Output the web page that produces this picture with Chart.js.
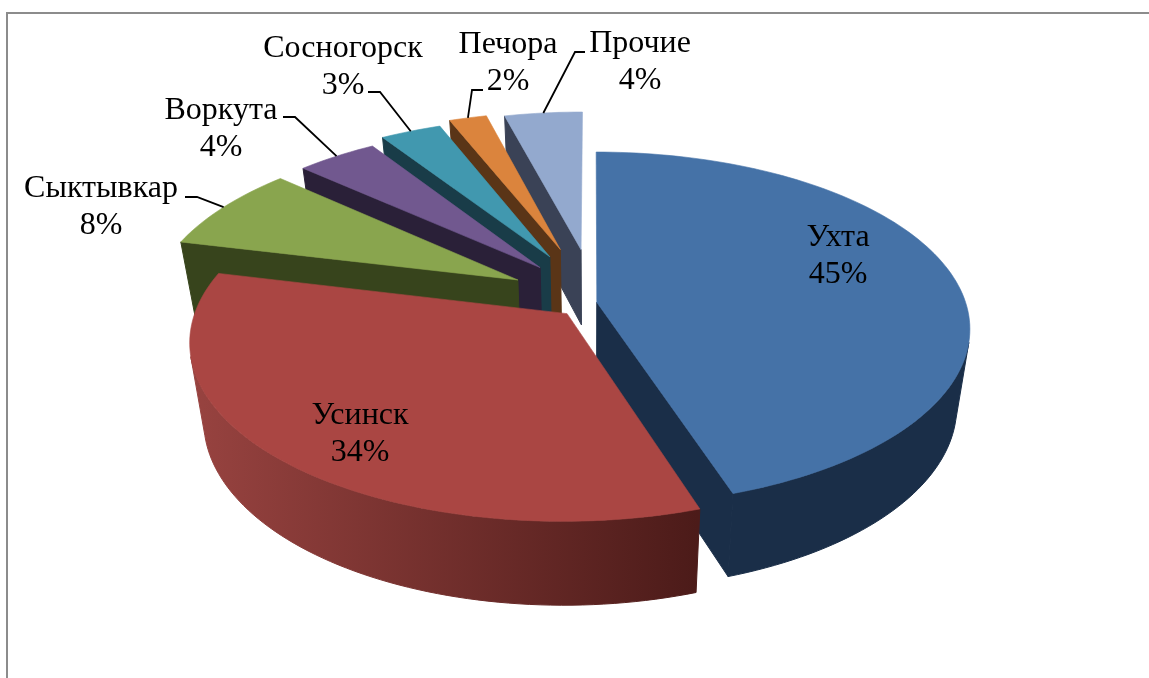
<!DOCTYPE html>
<html>
<head>
<meta charset="utf-8">
<style>
  html, body { margin: 0; padding: 0; background: #fff; overflow: hidden; }
  canvas { display: block; }
</style>
<script src="https://cdn.jsdelivr.net/npm/chart.js@4"></script>
</head>
<body>
<canvas id="pie3d" width="1149" height="678"></canvas>
<script>
const cities = ['Ухта', 'Усинск', 'Сыктывкар', 'Воркута', 'Сосногорск', 'Печора', 'Прочие'];
const shares = [44.9, 33.9, 7.9, 4.15, 3.15, 1.95, 4.05];

const topColors = ['#4572a7', '#aa4643', '#89a54e', '#71588f', '#4198af', '#db843d', '#93a9ce'];
const sideColors = ['#1a2e48', '#4c1b19', '#37441c', '#2a2038', '#193c48', '#5a3517', '#3a4256'];

// how far each slice is pulled out, in radii (across, towards viewer)
const pullU = [0.013, -0.067, -0.205, -0.145, -0.119, -0.09, -0.031];
const pullV = [-0.004, 0.061, -0.136, -0.211, -0.278, -0.324, -0.323];

// fake camera for the tilted pie
const view = { cx: 592, cy: 303, rx: 369, ry: 173, persp: 0.15, depth: 77, shrink: 0.035 };

function project(u, v, h) {
  const s = 1 / (1 - view.persp * v);
  const q = 1 - h * view.shrink;
  return {
    x: view.cx + view.rx * u * s * q,
    y: view.cy + view.ry * v * s * q + h * view.depth * s
  };
}

function fillPoly(ctx, pts, color, edge) {
  ctx.beginPath();
  pts.forEach((p, i) => (i ? ctx.lineTo(p.x, p.y) : ctx.moveTo(p.x, p.y)));
  ctx.closePath();
  ctx.fillStyle = color;
  ctx.strokeStyle = color;
  ctx.lineWidth = edge;
  ctx.fill();
  ctx.stroke();
}

function drawSlice(ctx, arc, i) {
  const steps = Math.max(6, Math.round((arc.endAngle - arc.startAngle) * 40));
  const ring = [[pullU[i], pullV[i]]];
  for (let n = 0; n <= steps; n++) {
    const a = arc.startAngle + (arc.endAngle - arc.startAngle) * n / steps;
    ring.push([pullU[i] + Math.cos(a), pullV[i] + Math.sin(a)]);
  }
  const topFace = ring.map(p => project(p[0], p[1], 0));
  const botFace = ring.map(p => project(p[0], p[1], 1));

  // rounded wall in one piece, only the part looking at the viewer
  const upper = [], lower = [];
  for (let n = 1; n < ring.length - 1; n++) {
    const a = topFace[n], b = topFace[n + 1], c = botFace[n + 1];
    const area = (b.x - a.x) * (c.y - a.y) - (b.y - a.y) * (c.x - a.x);
    if (area > 0) continue;
    if (!upper.length) { upper.push(a); lower.push(botFace[n]); }
    upper.push(b);
    lower.push(c);
  }
  if (upper.length) {
    let paint = sideColors[i];
    if (i === 1) {
      // red one fades along the front
      paint = ctx.createLinearGradient(190, 0, 697, 0);
      paint.addColorStop(0, '#984340');
      paint.addColorStop(1, '#4c1b19');
    }
    fillPoly(ctx, [...upper, ...lower.reverse()], paint, 1);
  }

  // straight walls on top of it, edge-on ones are skipped
  [0, ring.length - 1].forEach(n => {
    const m = (n + 1) % ring.length;
    const a = topFace[n], b = topFace[m], c = botFace[m], d = botFace[n];
    const area = (b.x - a.x) * (c.y - a.y) - (b.y - a.y) * (c.x - a.x);
    if (area < -200) fillPoly(ctx, [a, b, c, d], sideColors[i], 1);
  });

  fillPoly(ctx, topFace, topColors[i], 0.6);
}

const labelSpots = [
  { x: 838, y: 238 }, { x: 360, y: 416 },
  { x: 101, y: 189, leader: [[185, 197], [197, 197]] },
  { x: 221, y: 111, leader: [[283, 117], [295, 117]] },
  { x: 343, y: 49, leader: [[368, 92], [380, 92]] },
  { x: 508, y: 45, leader: [[483, 90], [472, 90]] },
  { x: 640, y: 44, leader: [[585, 52], [575, 52]] }
];

const pie3dPlugin = {
  id: 'pie3d',
  beforeDatasetsDraw(chart) {
    const ctx = chart.ctx;
    const arcs = chart.getDatasetMeta(0).data;

    // frame
    ctx.save();
    ctx.fillStyle = '#8c8c8c';
    ctx.fillRect(6, 12, 1143, 2);
    ctx.fillRect(6, 12, 2, 666);

    // back slices first, red and blue last
    [6, 5, 4, 3, 2, 0, 1].forEach(i => drawSlice(ctx, arcs[i], i));

    // leader lines end on the rim of their slice
    ctx.strokeStyle = '#000';
    ctx.lineWidth = 1.8;
    labelSpots.forEach((spot, i) => {
      if (!spot.leader) return;
      const mid = (arcs[i].startAngle + arcs[i].endAngle) / 2;
      const end = project(Math.cos(mid) + pullU[i], Math.sin(mid) + pullV[i], 0);
      ctx.beginPath();
      ctx.moveTo(spot.leader[0][0], spot.leader[0][1]);
      ctx.lineTo(spot.leader[1][0], spot.leader[1][1]);
      ctx.lineTo(end.x, end.y);
      ctx.stroke();
    });

    // labels
    const total = shares.reduce((a, b) => a + b, 0);
    ctx.fillStyle = '#000';
    ctx.font = '32px "Liberation Serif"';
    ctx.textAlign = 'center';
    ctx.textBaseline = 'middle';
    labelSpots.forEach((spot, i) => {
      ctx.fillText(cities[i], spot.x, spot.y);
      ctx.fillText(Math.round(shares[i] / total * 100) + '%', spot.x, spot.y + 37);
    });
    ctx.restore();
    return false;
  }
};

new Chart(document.getElementById('pie3d').getContext('2d'), {
  type: 'pie',
  data: {
    labels: cities,
    datasets: [{ data: shares, backgroundColor: topColors, borderWidth: 0 }]
  },
  options: {
    responsive: false,
    animation: false,
    plugins: { legend: { display: false }, tooltip: { enabled: false } }
  },
  plugins: [pie3dPlugin]
});
</script>
</body>
</html>
